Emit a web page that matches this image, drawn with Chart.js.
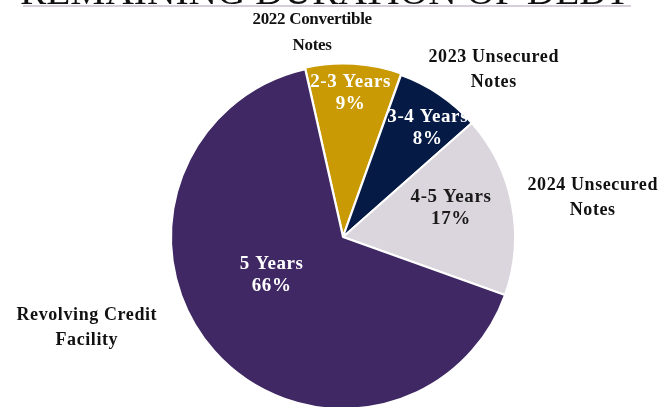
<!DOCTYPE html>
<html>
<head>
<meta charset="utf-8">
<script src="https://cdn.jsdelivr.net/npm/chart.js@4.4.0/dist/chart.umd.min.js"></script>
<style>
    html, body { margin: 0; padding: 0; background: #fff; overflow: hidden; }
    #wrap { position: relative; width: 662px; height: 420px; }
</style>
</head>
<body>
<div id="wrap"><canvas id="debtChart" width="662" height="420"></canvas></div>
<script>
const title = 'REMAINING DURATION OF DEBT';
const durations = ['2-3 Years', '3-4 Years', '4-5 Years', '5 Years'];
const shares = [9, 8, 17, 66];
const instruments = [
    ['2022 Convertible', 'Notes'],
    ['2023 Unsecured', 'Notes'],
    ['2024 Unsecured', 'Notes'],
    ['Revolving Credit', 'Facility']
];

const sliceColors = ['#C99A04', '#051A45', '#DBD6DE', '#3F2863'];
const innerTextColors = ['#ffffff', '#ffffff', '#1a1a1a', '#ffffff'];

// label placement around each slice: angle in degrees from 12 o'clock, distance as a fraction of the radius
const innerPlace = [[3, 0.84], [38, 0.80], [75, 0.65], [242, 0.47]];
const outerPlace = [[-8.6, 1.20], [42, 1.31], [81, 1.47], [250.5, 1.58]];

const serif = '"Liberation Serif", "DejaVu Serif", serif';

function drawBlock(ctx, lines, x, y, lineHeight) {
    const top = y - (lines.length - 1) * lineHeight / 2;
    lines.forEach((line, i) => ctx.fillText(line, x, top + i * lineHeight));
}

// Heading cut at the top edge, with its rule underneath
const headingPlugin = {
    id: 'heading',
    beforeDraw(chart) {
        const ctx = chart.ctx;
        ctx.save();
        ctx.font = '40px ' + serif;
        const w = ctx.measureText(title).width;
        const size = 40 * 610 / w;
        ctx.font = size + 'px ' + serif;
        ctx.fillStyle = '#111';
        ctx.textAlign = 'left';
        ctx.textBaseline = 'alphabetic';
        ctx.fillText(title, 20, 4);
        ctx.fillStyle = '#D6CEDA';
        ctx.fillRect(23, 5, 608, 2);
        ctx.restore();
    }
};

const sliceLabels = {
    id: 'sliceLabels',
    afterDatasetsDraw(chart) {
        const ctx = chart.ctx;
        const arcs = chart.getDatasetMeta(0).data;
        const cx = arcs[0].x;
        const cy = arcs[0].y;
        const r = arcs[0].outerRadius;
        ctx.save();
        ctx.textAlign = 'center';
        ctx.textBaseline = 'middle';
        arcs.forEach((arc, i) => {
            let a = innerPlace[i][0] * Math.PI / 180;
            let d = innerPlace[i][1] * r;
            ctx.font = 'bold 19px ' + serif;
            ctx.letterSpacing = '0.6px';
            ctx.fillStyle = innerTextColors[i];
            drawBlock(ctx, [durations[i], shares[i] + '%'], cx + d * Math.sin(a), cy - d * Math.cos(a), 22);

            a = outerPlace[i][0] * Math.PI / 180;
            d = outerPlace[i][1] * r;
            // the convertible notes caption is set tighter than the others
            ctx.font = (i === 0 ? 'bold 17px ' : 'bold 18px ') + serif;
            ctx.letterSpacing = i === 0 ? '-0.3px' : '0.6px';
            ctx.fillStyle = '#111';
            drawBlock(ctx, instruments[i], cx + d * Math.sin(a), cy - d * Math.cos(a), i === 0 ? 26 : 25);
        });
        ctx.restore();
    }
};

const ctx = document.getElementById('debtChart').getContext('2d');
new Chart(ctx, {
    type: 'pie',
    data: {
        labels: durations,
        datasets: [{
            data: shares,
            backgroundColor: sliceColors,
            borderColor: '#ffffff',
            borderWidth: 2,
            offset: [4, 0, 0, 0],
            hoverOffset: 0
        }]
    },
    options: {
        responsive: false,
        animation: false,
        rotation: -12.7,
        layout: { padding: { top: 62, bottom: 8, left: 168, right: 144 } },
        plugins: {
            legend: { display: false },
            tooltip: { enabled: false }
        }
    },
    plugins: [headingPlugin, sliceLabels]
});
</script>
</body>
</html>
